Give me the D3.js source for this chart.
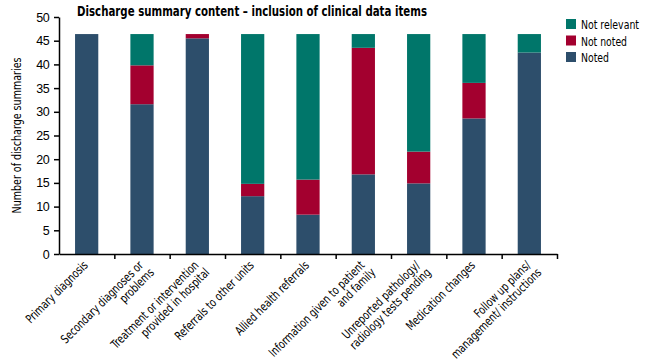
<!DOCTYPE html>
<html>
<head>
<meta charset="UTF-8">
<title>Discharge summary content</title>
<style>
  body { margin: 0; background: #fff; }
  svg { display: block; font-family: "DejaVu Sans Condensed", "Liberation Sans", sans-serif; }
  .axis path, .axis line { stroke: #000; stroke-width: 1.5; }
  .axis text { fill: #000; }
</style>
</head>
<body>
<div id="chart"></div>
<script src="https://cdnjs.cloudflare.com/ajax/libs/d3/7.8.5/d3.min.js"></script>
<script>
// categories (label lines), bottom-to-top series
const categories = [
  ["Primary diagnosis"],
  ["Secondary diagnoses or", "problems"],
  ["Treatment or intervention", "provided in hospital"],
  ["Referrals to other units"],
  ["Allied health referrals"],
  ["Information given to patient", "and family"],
  ["Unreported pathology/", "radiology tests pending"],
  ["Medication changes"],
  ["Follow up plans/", "management/ instructions"]
];
const noted       = [46.4, 31.6, 45.5, 12.2,  8.3, 16.8, 14.9, 28.6, 42.5];
const notNoted    = [ 0.0,  8.2,  0.9,  2.6,  7.4, 26.7,  6.7,  7.5,  0.0];
const notRelevant = [ 0.0,  6.6,  0.0, 31.6, 30.7,  2.9, 24.8, 10.3,  3.9];
const seriesNames = ["Noted", "Not noted", "Not relevant"];
const seriesColors = ["#2d4e6b", "#a3002f", "#00766a"];
const yTicks = [0, 5, 10, 15, 20, 25, 30, 35, 40, 45, 50];

const width = 650, height = 361;
const margin = {left: 59, right: 93, top: 17, bottom: 107};

const svg = d3.select("#chart").append("svg").attr("width", width).attr("height", height);

const x = d3.scaleBand().domain(d3.range(categories.length))
  .range([margin.left, width - margin.right]).paddingInner(0.58).paddingOuter(0.29);
const y = d3.scaleLinear().domain([0, 50]).range([height - margin.bottom, margin.top]);

const rows = categories.map((c, i) => ({i, "Noted": noted[i], "Not noted": notNoted[i], "Not relevant": notRelevant[i]}));
const stack = d3.stack().keys(seriesNames)(rows);

svg.append("g").selectAll("g").data(stack).join("g")
  .attr("fill", (d, k) => seriesColors[k])
  .selectAll("rect").data(d => d).join("rect")
  .attr("x", d => x(d.data.i))
  .attr("width", x.bandwidth())
  .attr("y", d => y(d[1]))
  .attr("height", d => y(d[0]) - y(d[1]));

// y axis
const yAxis = svg.append("g").attr("class", "axis")
  .attr("transform", `translate(${margin.left},0)`)
  .call(d3.axisLeft(y).tickValues(yTicks).tickSize(5).tickPadding(5).tickSizeOuter(0));
yAxis.selectAll("text").attr("font-size", 12.5).attr("letter-spacing", -0.6);

// x axis: ticks at band boundaries
const xLine = d3.scaleLinear().domain([0, categories.length]).range([margin.left, width - margin.right]);
svg.append("g").attr("class", "axis")
  .attr("transform", `translate(0,${y(0)})`)
  .call(d3.axisBottom(xLine).tickValues(d3.range(1, categories.length + 1)).tickSize(5).tickSizeOuter(0).tickFormat(""));

// category labels
const labels = svg.append("g").selectAll("text").data(categories).join("text")
  .attr("transform", (d, i) => `translate(${x(i) + x.bandwidth() / 2 + 2},${y(0) + 12}) rotate(-45) scale(0.84,1)`)
  .attr("text-anchor", "end")
  .attr("font-size", 12.2)
  .attr("fill", "#000");
labels.selectAll("tspan").data(d => d).join("tspan")
  .attr("x", (d, j) => j === 0 ? 0 : 3)
  .attr("dy", (d, j) => j === 0 ? 0 : "1.05em")
  .text(d => d);

// y axis title
svg.append("text")
  .attr("transform", `translate(21,${(margin.top + y(0)) / 2}) rotate(-90)`)
  .attr("text-anchor", "middle")
  .attr("font-size", 12.5)
  .attr("textLength", 156).attr("lengthAdjust", "spacingAndGlyphs")
  .text("Number of discharge summaries");

// title
svg.append("text")
  .attr("x", 77).attr("y", 16)
  .attr("font-size", 14.5).attr("font-weight", "bold")
  .attr("textLength", 350).attr("lengthAdjust", "spacingAndGlyphs")
  .text("Discharge summary content \u2013 inclusion of clinical data items");

// legend (top to bottom: Not relevant, Not noted, Noted)
const legendLens = {"Not relevant": 58, "Not noted": 46, "Noted": 28};
const legend = svg.append("g").selectAll("g").data(seriesNames.slice().reverse()).join("g")
  .attr("transform", (d, i) => `translate(566,${19 + i * 16.5})`);
legend.append("rect").attr("width", 10).attr("height", 10)
  .attr("fill", d => seriesColors[seriesNames.indexOf(d)]);
legend.append("text").attr("x", 15).attr("y", 10).attr("font-size", 12)
  .attr("textLength", d => legendLens[d]).attr("lengthAdjust", "spacingAndGlyphs")
  .text(d => d);
</script>
</body>
</html>
